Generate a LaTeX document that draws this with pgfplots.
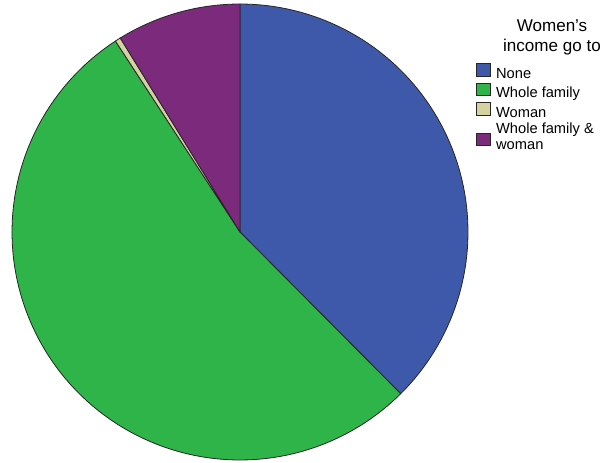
\documentclass[border=0pt]{standalone}
\usepackage{pgfplots}
\pgfplotsset{compat=1.18}
\usepackage{fontspec}
\setmainfont{Liberation Sans}
\definecolor{cNone}{HTML}{3F59AA}
\definecolor{cFam}{HTML}{2EB449}
\definecolor{cWom}{HTML}{D6D1A0}
\definecolor{cBoth}{HTML}{7B2A7C}
% shares (percent)
\def\vNone{37.55}
\def\vFam{53.25}
\def\vWom{0.40}
\def\vBoth{8.80}
\pgfmathsetmacro\aA{3.6*\vNone}
\pgfmathsetmacro\aB{\aA+3.6*\vFam}
\pgfmathsetmacro\aC{\aB+3.6*\vWom}
\pgfmathsetmacro\aD{\aC+3.6*\vBoth}
\def\cx{240}\def\cy{230}\def\rr{228}
\begin{document}
\begin{tikzpicture}
\begin{axis}[
  scale only axis, width=457.5pt, height=346.5pt,
  xmin=0, xmax=610, ymin=0, ymax=462,
  hide axis, clip=false,
  legend cell align=left,
  legend style={draw=none, fill=none, at={(axis cs:476,399)}, anchor=north west,
    font=\fontsize{11}{11.9}\selectfont, row sep=1.1pt, column sep=3pt, inner sep=0pt,
    nodes={align=left, inner sep=0.8pt}},
  legend image code/.code={\draw[#1, draw=black!85, line width=0.6pt] (0pt,-1.4pt) rectangle (10.5pt,7.8pt);},
]
\path (axis cs:0,0) rectangle (axis cs:610,462);
\addplot[fill=cNone, draw=black!85, line width=0.6pt, domain=0:\aA, samples=80]
  ({\cx+\rr*sin(x)},{\cy+\rr*cos(x)}) -- (axis cs:\cx,\cy) -- cycle;
\addlegendentry{None}
\addplot[fill=cFam, draw=black!85, line width=0.6pt, domain=\aA:\aB, samples=100]
  ({\cx+\rr*sin(x)},{\cy+\rr*cos(x)}) -- (axis cs:\cx,\cy) -- cycle;
\addlegendentry{Whole family}
\addplot[fill=cWom, draw=black!85, line width=0.6pt, domain=\aB:\aC, samples=5]
  ({\cx+\rr*sin(x)},{\cy+\rr*cos(x)}) -- (axis cs:\cx,\cy) -- cycle;
\addlegendentry{Woman}
\addplot[fill=cBoth, draw=black!85, line width=0.6pt, domain=\aC:\aD, samples=30,
  legend image code/.code={\draw[fill=cBoth, draw=black!85, line width=0.6pt] (0pt,-6.2pt) rectangle (10.5pt,3pt);}]
  ({\cx+\rr*sin(x)},{\cy+\rr*cos(x)}) -- (axis cs:\cx,\cy) -- cycle;
\addlegendentry{Whole family \&\\woman}
\node[align=center, anchor=north, font=\fontsize{12.8}{15.5}\selectfont, inner sep=0pt] at (axis cs:552,443) {Women's\\income go to};
\end{axis}
\end{tikzpicture}
\end{document}
